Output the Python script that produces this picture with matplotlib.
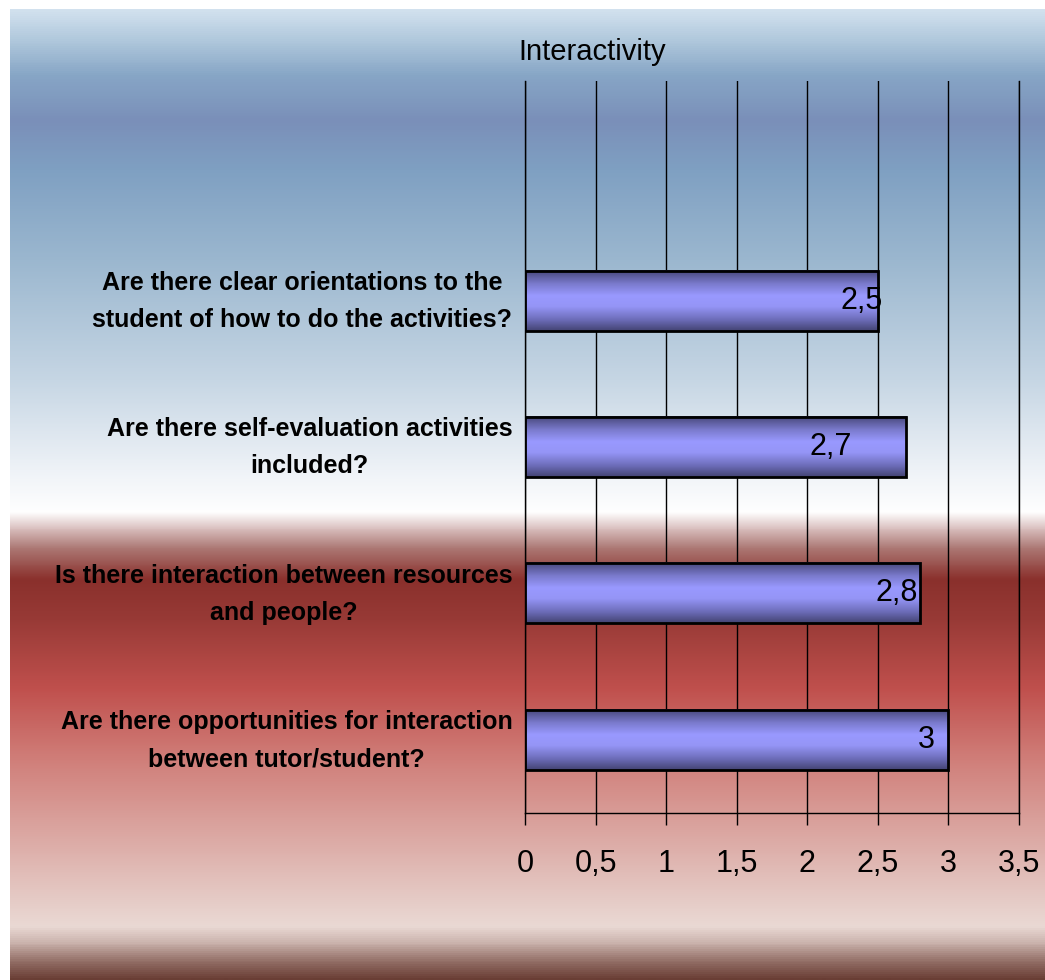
import numpy as np
import matplotlib
matplotlib.use('Agg')
import matplotlib.pyplot as plt
from matplotlib.colors import LinearSegmentedColormap
from matplotlib.transforms import ScaledTranslation

# chart data (bottom to top)
questions = ['Are there opportunities for interaction\nbetween tutor/student?',
             'Is there interaction between resources\nand people?',
             'Are there self-evaluation activities\nincluded?',
             'Are there clear orientations to the\nstudent of how to do the activities?']
scores = [3.0, 2.8, 2.7, 2.5]
score_labels = ['3', '2,8', '2,7', '2,5']
xticks = [0, 0.5, 1, 1.5, 2, 2.5, 3, 3.5]
xtick_labels = ['0', '0,5', '1', '1,5', '2', '2,5', '3', '3,5']
title = 'Interactivity'

FONT = ['Liberation Sans', 'DejaVu Sans']

def main():
    W, H = 1045, 980
    fig = plt.figure(figsize=(W / 100, H / 100), dpi=100, facecolor='white')

    # background gradient (blue sky over red)
    stops = [(9, '#d3e2ef'), (40, '#b0c8dc'), (75, '#87a6c6'), (120, '#7a8fb9'),
             (170, '#7fa0c2'), (260, '#9bb7cf'), (380, '#c6d6e4'), (470, '#eef2f7'),
             (513, '#ffffff'), (528, '#dcc4c3'), (548, '#ad7a76'), (580, '#8a302c'),
             (620, '#983a36'), (690, '#c0504d'), (760, '#d07e79'), (840, '#dcaaa5'),
             (905, '#e6cdc8'), (928, '#ead9d4'), (945, '#c8b0aa'), (960, '#9a776f'),
             (980, '#6a3e35')]
    bg_cmap = LinearSegmentedColormap.from_list(
        'bg', [((y - 9) / 971, c) for y, c in stops], N=512)
    bg = fig.add_axes([10 / W, 0, 1 - 10 / W, 1 - 9 / H], zorder=-10)
    bg.imshow(np.linspace(0, 1, 971).reshape(-1, 1), cmap=bg_cmap, aspect='auto',
              extent=[0, 1, 0, 1], origin='upper', interpolation='bilinear')
    bg.axis('off')

    ax = fig.add_axes([525 / W, 1 - 813 / H, (1019 - 525) / W, (813 - 81) / H])
    ax.patch.set_alpha(0)

    pos = np.arange(len(questions))
    h = 0.41
    bar_cmap = LinearSegmentedColormap.from_list(
        'bar', [(0, '#47477a'), (0.22, '#7a7acc'), (0.42, '#9999ff'), (0.6, '#9595f6'),
                (0.82, '#6c6cb8'), (1, '#444474')])
    grad = np.linspace(0, 1, 100).reshape(-1, 1)
    for y, v in zip(pos, scores):
        ax.imshow(grad, cmap=bar_cmap, aspect='auto', origin='upper',
                  extent=[0, v, y - h / 2, y + h / 2], zorder=2, interpolation='bilinear')
    ax.barh(pos, scores, height=h, facecolor='none', edgecolor='black', linewidth=2, zorder=3)

    # value labels, shifted like in the original sheet
    label_shift = [-14, -2, -54, 5]
    for y, v, lab, dx in zip(pos, scores, score_labels, label_shift):
        ax.annotate(lab, (v, y), xytext=(dx * 0.72, 0), textcoords='offset points',
                    ha='right', va='center', fontsize=22, family=FONT, zorder=4)

    ax.set_xlim(0, 3.5)
    ax.set_ylim(-0.5, 4.5)
    ax.set_xticks(xticks, xtick_labels, fontsize=22, family=FONT)
    ax.set_yticks(pos, questions, fontsize=18, fontweight='bold', family=FONT,
                  multialignment='center', linespacing=1.7)
    ax.tick_params(axis='x', direction='out', length=8.6, width=1, pad=17)
    ax.tick_params(axis='y', length=0, pad=9)
    up = ScaledTranslation(0, 6 / 72, fig.dpi_scale_trans)
    for lab in ax.get_yticklabels():
        lab.set_transform(lab.get_transform() + up)
    ax.xaxis.grid(True, color='black', linewidth=1)
    ax.set_axisbelow(True)
    ax.spines['top'].set_visible(False)
    for s in ['left', 'right', 'bottom']:
        ax.spines[s].set_linewidth(1)

    fig.text(518 / W, 1 - 52 / H, title, ha='left', va='center', fontsize=21, family=FONT)

    fig.savefig('out.png', dpi=100)
    plt.close(fig)

if __name__ == '__main__':
    main()
